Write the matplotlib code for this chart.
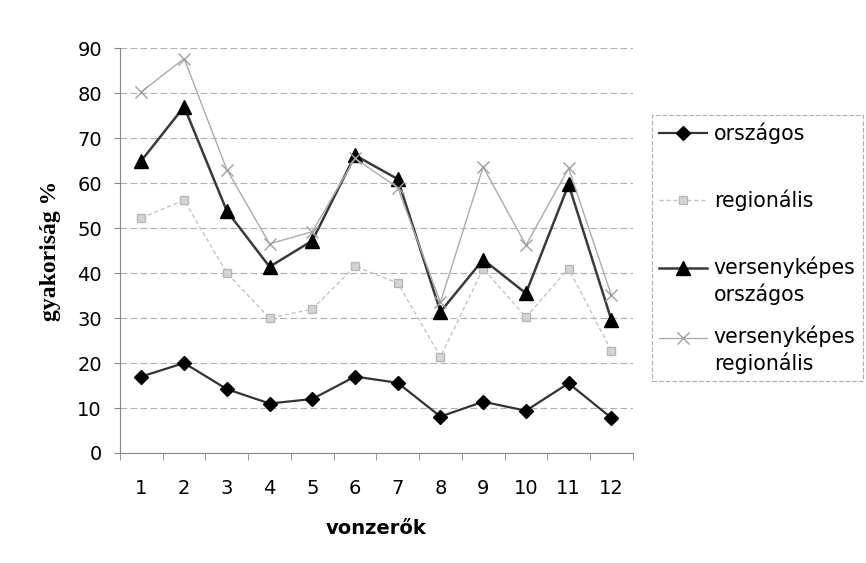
import numpy as np
import matplotlib
matplotlib.use("Agg")
import matplotlib.pyplot as plt
from matplotlib.ticker import MultipleLocator
from matplotlib.legend_handler import HandlerLine2D

categories = list(range(1, 13))
orszagos = [17, 20, 14.2, 11, 12, 17, 15.6, 8.1, 11.4, 9.4, 15.5, 7.8]
regionalis = [52.3, 56.2, 40, 30, 32, 41.5, 37.8, 21.4, 41, 30.2, 41, 22.7]
vk_orszagos = [65, 77, 53.8, 41.4, 47.2, 66.2, 60.9, 31.4, 43, 35.5, 59.7, 29.6]
vk_regionalis = [80.3, 87.7, 63, 46.5, 49.2, 65.5, 59, 33.5, 63.6, 46.2, 63.3, 35.1]

# every label is two lines tall so the legend rows are evenly spaced
labels = ["országos\n", "regionális\n", "versenyképes\nországos", "versenyképes\nregionális"]


class FirstLineHandler(HandlerLine2D):
    # put the legend line next to the first text line, not between the two
    def __init__(self, lift, **kw):
        super().__init__(**kw)
        self.lift = lift

    def create_artists(self, legend, orig_handle, xdescent, ydescent,
                       width, height, fontsize, trans):
        return super().create_artists(legend, orig_handle, xdescent,
                                      ydescent - 2 * self.lift * fontsize,
                                      width, height, fontsize, trans)


plt.rcParams["font.family"] = ["DejaVu Sans"]

fig = plt.figure(figsize=(8.66, 5.63), dpi=100)
ax = fig.add_axes([0.1386, 0.1954, 0.592, 0.719])

ax.plot(categories, orszagos, color="#333333", lw=1.6, marker="D", ms=7.5,
        mfc="black", mec="black", label=labels[0])
ax.plot(categories, regionalis, color="#c4c4c4", lw=1.0, ls=(0, (3, 2)), marker="s", ms=6,
        mfc="#d4d4d4", mec="#b8b8b8", label=labels[1])
ax.plot(categories, vk_orszagos, color="#3a3a3a", lw=1.8, marker="^", ms=10,
        mfc="black", mec="black", label=labels[2])
ax.plot(categories, vk_regionalis, color="#ababab", lw=1.0, marker="x", ms=8,
        mec="#a0a0a0", label=labels[3])

ax.set_xlim(0.5, 12.5)
ax.set_ylim(0, 90)
ax.set_xticks(categories)
ax.xaxis.set_minor_locator(MultipleLocator(1, offset=0.5))
ax.tick_params(axis="x", which="major", length=0, pad=19, labelsize=14)
ax.tick_params(axis="x", which="minor", length=5, direction="out", color="#888888")
ax.yaxis.set_major_locator(MultipleLocator(10))
ax.tick_params(axis="y", length=4, direction="out", labelsize=14, color="#888888", pad=9)
ax.grid(axis="y", color="#b0b0b0", ls=(0, (6, 3)), lw=0.8)
for side in ["top", "right"]:
    ax.spines[side].set_visible(False)
for side in ["left", "bottom"]:
    ax.spines[side].set_color("#888888")

ax.set_xlabel("vonzerők", fontsize=14, fontweight="bold", labelpad=15)
ax.set_ylabel("gyakoriság %", fontsize=17, fontweight="bold",
              family=["Liberation Serif", "DejaVu Serif"], labelpad=12)

hmap = {ln: FirstLineHandler(0.64) for ln in ax.get_lines()}
leg = fig.legend(loc="upper left", bbox_to_anchor=(0.753, 0.796), frameon=True,
                 fancybox=False, edgecolor="#999999", fontsize=14.8, labelspacing=1.02,
                 handlelength=2.3, handletextpad=0.35, borderpad=0.35, borderaxespad=0,
                 handler_map=hmap)
leg.get_frame().set_linewidth(0.8)
leg.get_frame().set_linestyle((0, (4, 2)))
for t in leg.get_texts():
    t.set_linespacing(1.3)

fig.savefig("out.png", dpi=100)
